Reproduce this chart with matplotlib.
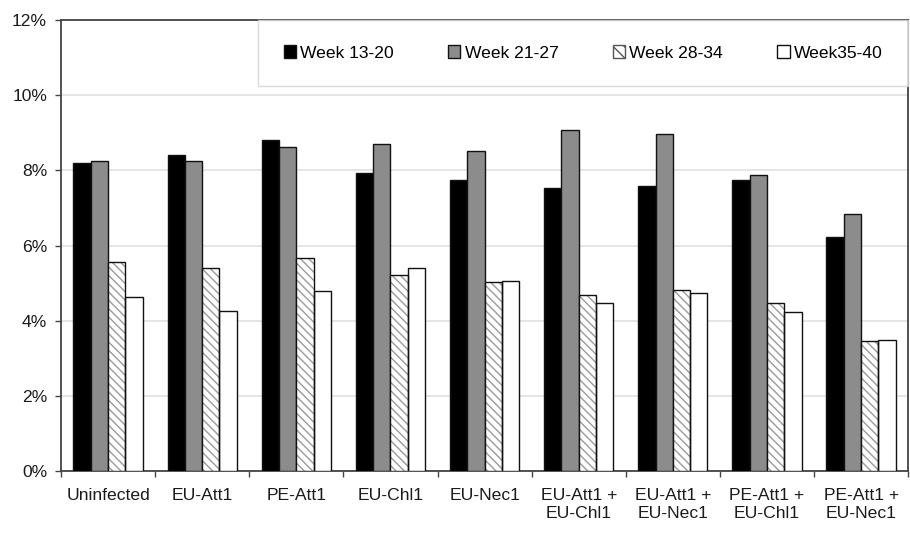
import matplotlib
matplotlib.use("Agg")
import matplotlib.pyplot as plt
import numpy as np
from matplotlib.ticker import FuncFormatter, FixedLocator
from matplotlib.patches import Patch

plt.rcParams['font.family'] = ['Liberation Sans', 'DejaVu Sans']
plt.rcParams['hatch.linewidth'] = 1.0

categories = ["Uninfected", "EU-Att1", "PE-Att1", "EU-Chl1", "EU-Nec1",
              "EU-Att1 +\nEU-Chl1", "EU-Att1 +\nEU-Nec1",
              "PE-Att1 +\nEU-Chl1", "PE-Att1 +\nEU-Nec1"]
series_names = ["Week 13-20", "Week 21-27", "Week 28-34", "Week35-40"]
week_13_20 = [8.19, 8.41, 8.80, 7.94, 7.73, 7.52, 7.58, 7.74, 6.23]
week_21_27 = [8.24, 8.24, 8.62, 8.69, 8.52, 9.07, 8.96, 7.87, 6.83]
week_28_34 = [5.55, 5.40, 5.68, 5.22, 5.02, 4.69, 4.82, 4.46, 3.47]
week_35_40 = [4.64, 4.26, 4.80, 5.39, 5.05, 4.47, 4.73, 4.24, 3.49]

fig = plt.figure(figsize=(9.10, 5.44), dpi=100)
ax = fig.add_axes([0.067, 0.1342, 0.931, 0.829])

x = np.arange(len(categories))
w = 0.184
offsets = [-1.5 * w, -0.5 * w, 0.5 * w, 1.5 * w]
series = [week_13_20, week_21_27, week_28_34, week_35_40]
faces = ["#000000", "#8c8c8c", "#ffffff", "#ffffff"]
hatches = [None, None, "\\\\\\\\", None]

for i, (vals, fc, h) in enumerate(zip(series, faces, hatches)):
    if h:
        ax.bar(x + offsets[i], vals, w, color="white", edgecolor="#9a9a9a",
               hatch=h, linewidth=0, zorder=3)
        ax.bar(x + offsets[i], vals, w, fill=False, edgecolor="#111111",
               linewidth=1.0, zorder=4)
    else:
        ax.bar(x + offsets[i], vals, w, color=fc, edgecolor="#111111",
               linewidth=1.0, zorder=3)

proxies = [
    Patch(facecolor="#000000", edgecolor="#111111"),
    Patch(facecolor="#8c8c8c", edgecolor="#111111"),
    Patch(facecolor="white", edgecolor="#555555", hatch="\\\\\\"),
    Patch(facecolor="white", edgecolor="#111111"),
]

ax.set_xlim(-0.5, len(categories) - 0.5)
ax.set_ylim(0, 12)
ax.yaxis.set_major_locator(FixedLocator([0, 2, 4, 6, 8, 10, 12]))
ax.yaxis.set_major_formatter(FuncFormatter(lambda v, p: f"{v:.0f}%"))
ax.grid(axis="y", color="#e0e0e0", linewidth=1.2, zorder=0)
ax.set_axisbelow(True)

ax.set_xticks(x)
ax.set_xticklabels(categories, fontsize=12.6, color="#1a1a1a", linespacing=1.25)
ax.set_xticks(np.arange(-0.5, len(categories), 1.0), minor=True)
ax.tick_params(axis="x", which="major", length=0, pad=12)
ax.tick_params(axis="x", which="minor", length=4, width=1, color="#444444",
               direction="out")
ax.tick_params(axis="y", length=4, width=1, color="#444444", pad=6,
               labelsize=12.6, labelcolor="#1a1a1a")

for s in ax.spines.values():
    s.set_color("#444444")
    s.set_linewidth(1.3)

leg = ax.legend(proxies, series_names, loc="upper right",
                bbox_to_anchor=(1.0, 1.0), ncol=4, fontsize=12.6,
                frameon=True, fancybox=False, handlelength=0.7,
                handleheight=0.7, handletextpad=0.25, columnspacing=3.1,
                borderpad=1.45, borderaxespad=0.0)
leg.get_frame().set_edgecolor("#d0d0d0")
leg.get_frame().set_linewidth(1.0)
leg.set_zorder(5)

fig.savefig("out.png", dpi=100, facecolor="white")
